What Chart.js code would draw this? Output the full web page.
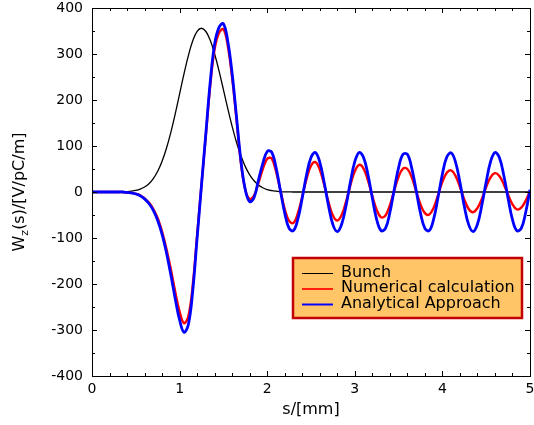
<!DOCTYPE html>
<html><head><meta charset="utf-8">
<script src="https://cdn.jsdelivr.net/npm/chart.js@4.4.1/dist/chart.umd.min.js"></script>
<style>
html,body{margin:0;padding:0;background:#fff;overflow:hidden;width:534px;height:425px}
canvas{display:block}
</style></head>
<body><canvas id="c" width="534" height="425"></canvas>
<script>
// ---- data ----
const sValues = [0,0.05,0.1,0.15,0.2,0.25,0.3,0.35,0.4,0.45,0.5,0.55,0.6,0.65,0.7,0.75,0.8,0.85,0.9,0.95,
1,1.05,1.1,1.15,1.2,1.25,1.3,1.35,1.4,1.45,1.5,1.55,1.6,1.65,1.7,1.75,1.8,1.85,1.9,1.95,
2,2.05,2.1,2.15,2.2,2.25,2.3,2.35,2.4,2.45,2.5,2.55,2.6,2.65,2.7,2.75,2.8,2.85,2.9,2.95,
3,3.05,3.1,3.15,3.2,3.25,3.3,3.35,3.4,3.45,3.5,3.55,3.6,3.65,3.7,3.75,3.8,3.85,3.9,3.95,
4,4.05,4.1,4.15,4.2,4.25,4.3,4.35,4.4,4.45,4.5,4.55,4.6,4.65,4.7,4.75,4.8,4.85,4.9,4.95,5];

const bunch = [0,0,0,0,0,0,0.2,0.4,0.9,1.8,3.4,6.2,10.8,18.1,29.2,45.1,66.9,95.2,129.8,169.9,
213.3,256.8,296.6,328.6,349.2,356,348.9,329.7,300.1,263.3,222.6,181.3,142.4,107.7,78.6,55.2,37.4,24.4,15.3,9.3,
5.4,3.1,1.7,0.9,0.4,0.2,0,0,0,0,0,0,0,0,0,0,0,0,0,0,
0,0,0,0,0,0,0,0,0,0,0,0,0,0,0,0,0,0,0,0,
0,0,0,0,0,0,0,0,0,0,0,0,0,0,0,0,0,0,0,0,0];

const numerical = [0,0,0,0,0,0,0,0,-1,-2,-4,-7,-14,-23,-37,-57,-86,-124,-168,-217,
-260,-285,-270,-203,-94,16,124,232,311,346,354,318,248,157,63,5,-15,-8,20,50,
72,73,45,4,-37,-63,-67,-46,-10,29,57,65,49,16,-22,-51,-62,-50,-21,15,
45,59,51,25,-9,-39,-55,-51,-29,3,33,51,50,32,2,-27,-46,-49,-34,-7,
22,42,47,35,11,-16,-37,-44,-35,-15,11,32,41,35,17,-6,-27,-38,-34,-19,2];

const analytical = [0,0,0,0,0,0,0,0,-1,-2,-4,-8,-15,-25,-40,-62,-92,-132,-180,-232,
-278,-305,-288,-215,-100,15,128,240,322,358,366,328,257,163,68,5,-21,-12,26,62,
88,87,54,4,-46,-79,-84,-59,-13,38,75,86,65,21,-30,-71,-86,-70,-30,22,
66,86,75,38,-13,-60,-84,-79,-45,5,53,82,82,52,4,-46,-79,-84,-59,-12,
39,76,85,65,21,-31,-71,-86,-70,-29,22,66,86,75,37,-14,-60,-84,-79,-45,5];

const seriesNames = ['Bunch','Numerical calculation','Analytical Approach'];
const xTickValues = [0,1,2,3,4,5];
const yTickValues = [-400,-300,-200,-100,0,100,200,300,400];
const xTitle = 's/[mm]';
const yTitleParts = ['W','z','(s)/[V/pC/m]'];

// ---- styling ----
const FONT = "'DejaVu Sans', sans-serif";
const xMinorStep = 0.2, yMinorStep = 50;

function pts(arr){ return sValues.map((s,i)=>({x:s, y:arr[i]})); }

const frameTicks = {
  id:'frameTicks',
  afterDatasetsDraw(chart){
    const {ctx, chartArea:a, scales:{x, y}} = chart;
    ctx.save();
    ctx.strokeStyle = '#000'; ctx.lineWidth = 1;
    ctx.beginPath();
    const nx = Math.round((x.max - x.min)/xMinorStep);
    for(let i=0;i<=nx;i++){
      const v = x.min + i*xMinorStep;
      const px = Math.round(x.getPixelForValue(v)) + 0.5;
      const L = (i % 5 === 0) ? 5 : 3;
      ctx.moveTo(px, a.bottom); ctx.lineTo(px, a.bottom - L);
      ctx.moveTo(px, a.top); ctx.lineTo(px, a.top + L);
    }
    const ny = Math.round((y.max - y.min)/yMinorStep);
    for(let i=0;i<=ny;i++){
      const v = y.min + i*yMinorStep;
      const py = Math.round(y.getPixelForValue(v)) + 0.5;
      const L = (i % 2 === 0) ? 5 : 3;
      ctx.moveTo(a.left, py); ctx.lineTo(a.left + L, py);
      ctx.moveTo(a.right, py); ctx.lineTo(a.right - L, py);
    }
    ctx.stroke();
    ctx.strokeRect(Math.round(a.left)+0.5, Math.round(a.top)+0.5, Math.round(a.right-a.left), Math.round(a.bottom-a.top));
    ctx.restore();
  }
};

const axisTitles = {
  id:'axisTitles',
  afterDraw(chart){
    const {ctx, chartArea:a} = chart;
    ctx.save();
    ctx.fillStyle = '#000';
    ctx.font = '16px ' + FONT;
    ctx.textAlign = 'center'; ctx.textBaseline = 'middle';
    ctx.fillText(xTitle, (a.left + a.right)/2, a.bottom + 34);
    ctx.translate(20, (a.top + a.bottom)/2);
    ctx.rotate(-Math.PI/2);
    const main = '16px ' + FONT, sub = '11px ' + FONT;
    ctx.font = main;
    const w1 = ctx.measureText(yTitleParts[0]).width;
    const w3 = ctx.measureText(yTitleParts[2]).width;
    ctx.font = sub;
    const w2 = ctx.measureText(yTitleParts[1]).width;
    let x = -(w1 + w2 + w3)/2;
    ctx.textAlign = 'left';
    ctx.font = main; ctx.fillText(yTitleParts[0], x, 0); x += w1;
    ctx.font = sub; ctx.fillText(yTitleParts[1], x, 5); x += w2;
    ctx.font = main; ctx.fillText(yTitleParts[2], x, 0);
    ctx.restore();
  }
};

const legendBox = {
  id:'legendBox',
  afterDraw(chart){
    const {ctx} = chart;
    const bx = 293, by = 258, bw = 229, bh = 60;
    ctx.save();
    ctx.fillStyle = '#FFC566';
    ctx.fillRect(bx, by, bw, bh);
    ctx.strokeStyle = '#C40000'; ctx.lineWidth = 2.5;
    ctx.strokeRect(bx, by, bw, bh);
    ctx.font = '16px ' + FONT;
    ctx.textAlign = 'left'; ctx.textBaseline = 'middle';
    chart.data.datasets.forEach((ds, i) => {
      const ly = 273.5 + i*15.5;
      ctx.strokeStyle = ds.borderColor;
      ctx.lineWidth = Math.max(1, ds.borderWidth*0.7);
      ctx.beginPath(); ctx.moveTo(302, ly); ctx.lineTo(333, ly); ctx.stroke();
      ctx.fillStyle = '#000';
      ctx.fillText(ds.label, 341, ly - 1);
    });
    ctx.restore();
  }
};

new Chart(document.getElementById('c'), {
  type:'line',
  data:{
    datasets:[
      {label:seriesNames[0], data:pts(bunch), borderColor:'#000000', borderWidth:1.3, order:3},
      {label:seriesNames[1], data:pts(numerical), borderColor:'#ff0000', borderWidth:2.4, order:2},
      {label:seriesNames[2], data:pts(analytical), borderColor:'#0000ff', borderWidth:2.8, order:1}
    ]
  },
  options:{
    responsive:false,
    animation:false,
    elements:{point:{radius:0}, line:{tension:0.4, fill:false}},
    layout:{padding:{top:8, right:4, left:0, bottom:0}},
    plugins:{legend:{display:false}, tooltip:{enabled:false}},
    scales:{
      x:{
        type:'linear', min:0, max:5,
        afterBuildTicks(s){ s.ticks = xTickValues.map(v=>({value:v})); },
        afterFit(s){ s.height = 49; s.paddingLeft = 0; s.paddingRight = 0; },
        grid:{display:false, drawTicks:false},
        border:{display:false},
        ticks:{font:{family:FONT, size:14}, color:'#000', padding:5, maxRotation:0, autoSkip:false}
      },
      y:{
        type:'linear', min:-400, max:400,
        afterBuildTicks(s){ s.ticks = yTickValues.map(v=>({value:v})); },
        afterFit(s){ s.width = 92; s.paddingTop = 0; s.paddingBottom = 0; },
        grid:{display:false, drawTicks:false},
        border:{display:false},
        ticks:{font:{family:FONT, size:14}, color:'#000', padding:9, autoSkip:false}
      }
    }
  },
  plugins:[frameTicks, axisTitles, legendBox]
});
</script>
</body></html>
